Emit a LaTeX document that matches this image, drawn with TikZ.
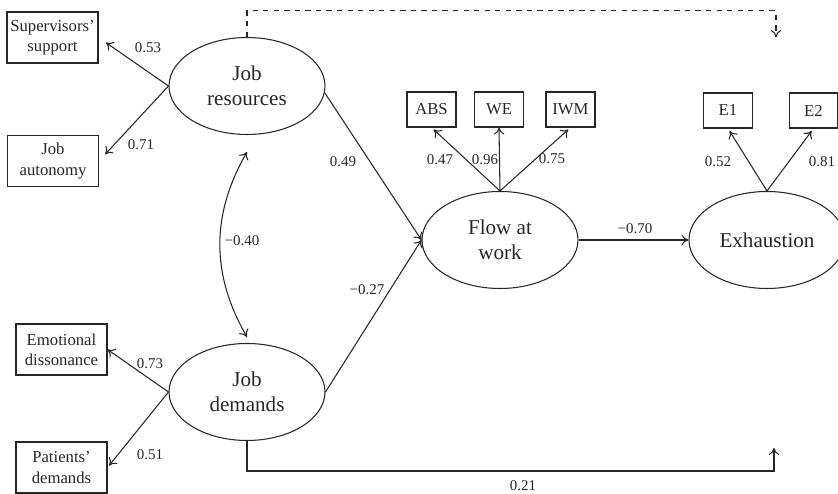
\documentclass[tikz,border=0pt]{standalone}
\usepackage{fontspec}
\setmainfont{Liberation Serif}
\usetikzlibrary{shapes.geometric,arrows.meta}
\tikzset{
  latent/.style={draw, ellipse, minimum width=3.12cm, minimum height=1.94cm, inner sep=0pt, align=center, font=\fontsize{12}{14}\selectfont},
  bigbox/.style={draw, rectangle, minimum width=1.82cm, minimum height=1.02cm, inner sep=0pt, align=center, font=\fontsize{9.5}{11.5}\selectfont},
  smallbox/.style={draw, rectangle, minimum width=0.98cm, minimum height=0.70cm, inner sep=0pt, font=\fontsize{9.5}{11.5}\selectfont},
  coef/.style={inner sep=1pt, font=\fontsize{8.5}{9}\selectfont},
}

\begin{document}
\begin{tikzpicture}[line width=0.6pt, color=black!85, >={To[length=4pt,width=6pt]}]
\useasboundingbox (0,0) rectangle (16.76,9.88);

% latent variables
\node[latent] (jr) at (4.94,8.16) {Job\\resources};
\node[latent] (jd) at (4.94,2.04) {Job\\demands};
\node[latent] (flow) at (10.00,5.08) {Flow at\\work};
\node[latent] (exh) at (15.34,5.08) {Exhaustion};

% indicators
\node[bigbox] (sup) at (1.05,9.13) {Supervisors'\\support};
\node[bigbox] (aut) at (1.06,6.66) {Job\\autonomy};
\node[bigbox] (emo) at (1.23,2.89) {Emotional\\dissonance};
\node[bigbox] (pat) at (1.23,0.53) {Patients'\\demands};
\node[smallbox] (abs) at (8.63,7.69) {ABS};
\node[smallbox] (we) at (9.98,7.69) {WE};
\node[smallbox] (iwm) at (11.41,7.69) {IWM};
\node[smallbox] (e1) at (14.56,7.67) {E1};
\node[smallbox, minimum width=0.96cm] (e2) at (16.27,7.67) {E2};

% loadings
\draw[->, shorten >=0.18cm] (jr.west) -- (sup.east);
\draw[->, shorten >=0.18cm] (jr.west) -- (aut.east);
\draw[->] (jd.west) -- (emo.east);
\draw[->, shorten >=0.05cm] (jd.west) -- (pat.east);
\draw[->, shorten >=0.06cm] (flow.north) -- (abs.south);
\draw[->] (flow.north) -- (we.south);
\draw[->, shorten >=0.06cm] (flow.north) -- (iwm.south);
\draw[->, shorten >=0.06cm] (exh.north) -- (e1.south);
\draw[->, shorten >=0.06cm] (exh.north) -- (e2.south);

% structural paths
\draw[->] (jr.-5) -- (flow.west);
\draw[->] (jd.east) -- (flow.west);
\draw[->] (flow.east) -- (exh.west);
\draw[<->] ([yshift=-0.34cm]jr.south) to[bend right=30] ([yshift=0.12cm]jd.north);

\coordinate (dashend) at (15.52,9.14);
\coordinate (solidend) at (15.48,0.92);
\draw[->, dashed] (jr.north) -- ++(0,0.52) -| (dashend);
\draw[->] (jd.south) -- ++(0,-0.6) -| (solidend);

% coefficients
\node[coef] (c053) at (2.96,8.92) {0.53};
\node[coef] (c071) at (2.82,6.98) {0.71};
\node[coef] (c073) at (3.00,2.60) {0.73};
\node[coef] (c051) at (3.00,0.78) {0.51};
\node[coef] (c049) at (6.86,6.64) {0.49};
\node[coef] (c027) at (7.34,4.08) {−0.27};
\node[coef] (c040) at (4.84,5.06) {−0.40};
\node[coef] (c047) at (8.80,6.68) {0.47};
\node[coef] (c096) at (9.70,6.68) {0.96};
\node[coef] (c075) at (11.04,6.70) {0.75};
\node[coef] (c070) at (12.70,5.30) {−0.70};
\node[coef] (c052) at (14.36,6.64) {0.52};
\node[coef] (c081) at (16.44,6.64) {0.81};
\node[coef] (c021) at (10.46,0.17) {0.21};

\end{tikzpicture}
\end{document}
